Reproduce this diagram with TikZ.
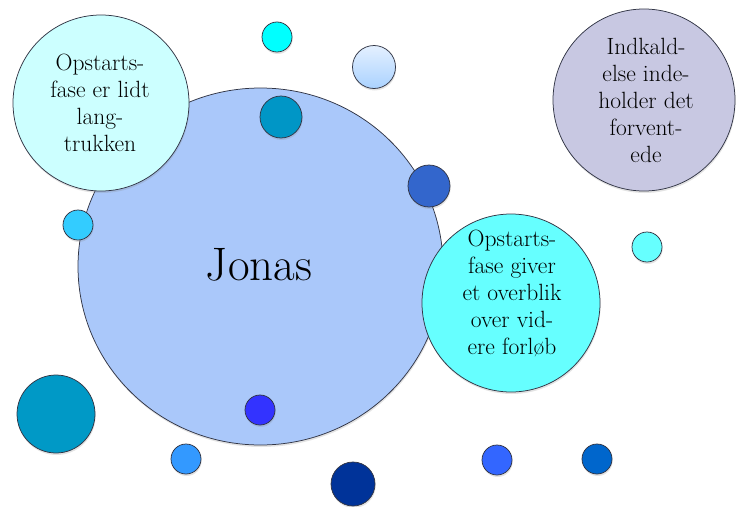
\documentclass[tikz,border=0pt]{standalone}
\usepackage{fontspec}
\usetikzlibrary{shadows,shapes.geometric}
\definecolor{cJonas}{RGB}{170,200,250}
\definecolor{cTL}{RGB}{204,255,255}
\definecolor{cTR}{RGB}{200,200,226}
\definecolor{cR}{RGB}{102,255,255}
\definecolor{cLine}{RGB}{50,54,70}
\tikzset{
  x=1pt, y=-1pt,
  bub/.style={circle, draw=cLine, line width=0.75pt, inner sep=0pt,
    drop shadow={shadow xshift=0.6pt, shadow yshift=-2pt, opacity=0.22}},
  txt/.style={align=center, font=\fontsize{23.5}{27}\selectfont, text=black},
}
\begin{document}
\begin{tikzpicture}
\useasboundingbox (0,0) rectangle (736,506);
% main circle
\node[bub, ellipse, fill=cJonas, minimum width=365pt, minimum height=357pt] (jonas) at (260.5,266.5) {};
\node[font=\fontsize{47}{52}\selectfont, anchor=base] (jonast) at (259,280) {Jonas};
% text bubbles
\node[bub, fill=cTL, minimum size=176pt] (tl) at (101,103) {};
\node[txt] (tlt) at (100,103) {Opstarts-\\fase er lidt\\lang-\\trukken};
\node[bub, fill=cTR, minimum size=182pt] (tr) at (644,100) {};
\node[txt] (trt) at (646,100) {Indkald-\\else inde-\\holder det\\forvent-\\ede};
\node[bub, fill=cR, minimum size=178pt] (rc) at (511,303) {};
\node[txt] (rct) at (512,293) {Opstarts-\\fase giver\\et overblik\\over vid-\\ere forløb};
% small circles
\node[bub, fill={rgb,255:red,0;green,255;blue,255}, minimum size=30pt] (s1) at (277,37) {};
\node[bub, top color={rgb,255:red,228;green,240;blue,255}, bottom color={rgb,255:red,170;green,210;blue,255}, minimum size=43pt] (s2) at (374,67) {};
\node[bub, fill={rgb,255:red,0;green,150;blue,198}, minimum size=42pt] (s3) at (281,117) {};
\node[bub, fill={rgb,255:red,51;green,102;blue,204}, minimum size=42pt] (s4) at (429,186) {};
\node[bub, fill={rgb,255:red,51;green,204;blue,255}, minimum size=30pt] (s5) at (78,225) {};
\node[bub, fill={rgb,255:red,102;green,255;blue,255}, minimum size=30pt] (s6) at (647,247) {};
\node[bub, fill={rgb,255:red,0;green,153;blue,198}, minimum size=78pt] (s7) at (56,414) {};
\node[bub, fill={rgb,255:red,51;green,51;blue,255}, minimum size=30pt] (s8) at (260,410) {};
\node[bub, fill={rgb,255:red,51;green,153;blue,255}, minimum size=30pt] (s9) at (186,459) {};
\node[bub, fill={rgb,255:red,0;green,51;blue,153}, minimum size=44pt] (s10) at (353,484) {};
\node[bub, fill={rgb,255:red,51;green,102;blue,255}, minimum size=30pt] (s11) at (497,460) {};
\node[bub, fill={rgb,255:red,0;green,102;blue,204}, minimum size=30pt] (s12) at (597,459) {};
\end{tikzpicture}
\end{document}
